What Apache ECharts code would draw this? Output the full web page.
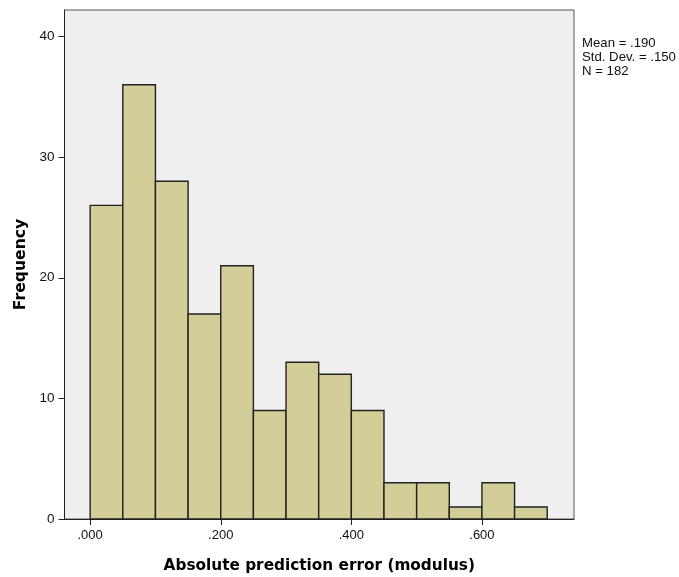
<!DOCTYPE html>
<html>
<head>
<meta charset="utf-8">
<script src="https://cdn.jsdelivr.net/npm/echarts@6/dist/echarts.min.js"></script>
<style>
html,body{margin:0;padding:0;background:#fff;}
#main{width:679px;height:577px;}
</style>
</head>
<body>
<div id="main"></div>
<script>
var binWidth = 0.05;
var binStarts = [0, 0.05, 0.10, 0.15, 0.20, 0.25, 0.30, 0.35, 0.40, 0.45, 0.50, 0.55, 0.60, 0.65];
var counts = [26, 36, 28, 17, 21, 9, 13, 12, 9, 3, 3, 1, 3, 1];
var xTickValues = [0, 0.2, 0.4, 0.6];
var xTickLabels = ['.000', '.200', '.400', '.600'];
var yTickValues = [0, 10, 20, 30, 40];
var statsLines = ['Mean = .190', 'Std. Dev. = .150', 'N = 182'];
var xTitle = 'Absolute prediction error (modulus)';
var yTitle = 'Frequency';

var data = binStarts.map(function (s, i) { return [s, s + binWidth, counts[i]]; });

var chart = echarts.init(document.getElementById('main'), null, {renderer: 'canvas'});
var font = 'Liberation Sans, Arial, sans-serif';
var titleFont = 'DejaVu Sans, Verdana, sans-serif';
chart.setOption({
  animation: false,
  backgroundColor: '#ffffff',
  grid: {
    left: 64.5, top: 10, right: 105, bottom: 58,
    outerBoundsMode: 'none', containLabel: false,
    show: true, backgroundColor: '#efefef', borderColor: '#555555', borderWidth: 1
  },
  xAxis: {
    type: 'value', min: -0.0393, max: 0.741,
    name: xTitle, nameLocation: 'middle', nameGap: 40,
    nameTextStyle: {fontFamily: titleFont, fontSize: 15.3, fontWeight: 'bold', color: '#000'},
    axisLine: {show: true, onZero: false, lineStyle: {color: '#222', width: 1}},
    axisTick: {show: true, customValues: xTickValues, length: 6, inside: false, lineStyle: {color: '#222', width: 1}},
    axisLabel: {
      customValues: xTickValues, margin: 10,
      fontFamily: font, fontSize: 13, color: '#111',
      formatter: function (v) {
        var i = xTickValues.findIndex(function (t) { return Math.abs(t - v) < 1e-9; });
        return i >= 0 ? xTickLabels[i] : '';
      }
    },
    splitLine: {show: false}
  },
  yAxis: {
    type: 'value', min: 0, max: 42.2,
    name: yTitle, nameLocation: 'middle', nameGap: 36, nameRotate: 90,
    nameTextStyle: {fontFamily: titleFont, fontSize: 15.6, fontWeight: 'bold', color: '#000'},
    axisLine: {show: true, onZero: false, lineStyle: {color: '#222', width: 1}},
    axisTick: {show: true, customValues: yTickValues, length: 6, lineStyle: {color: '#222', width: 1}},
    axisLabel: {customValues: yTickValues, margin: 10, fontFamily: font, fontSize: 13.5, color: '#111'},
    splitLine: {show: false}
  },
  graphic: [{
    type: 'text', left: 582, top: 36,
    style: {text: statsLines.join('\n'), font: '13.2px ' + font, fill: '#111', lineHeight: 14}
  }],
  series: [{
    type: 'custom',
    data: data,
    encode: {x: [0, 1], y: 2},
    renderItem: function (params, api) {
      var p0 = api.coord([api.value(0), api.value(2)]);
      var p1 = api.coord([api.value(1), 0]);
      return {
        type: 'rect',
        shape: {x: p0[0], y: p0[1], width: p1[0] - p0[0], height: p1[1] - p0[1]},
        style: {fill: '#d3ce97', stroke: '#222222', lineWidth: 1.4}
      };
    }
  }]
});
</script>
</body>
</html>
